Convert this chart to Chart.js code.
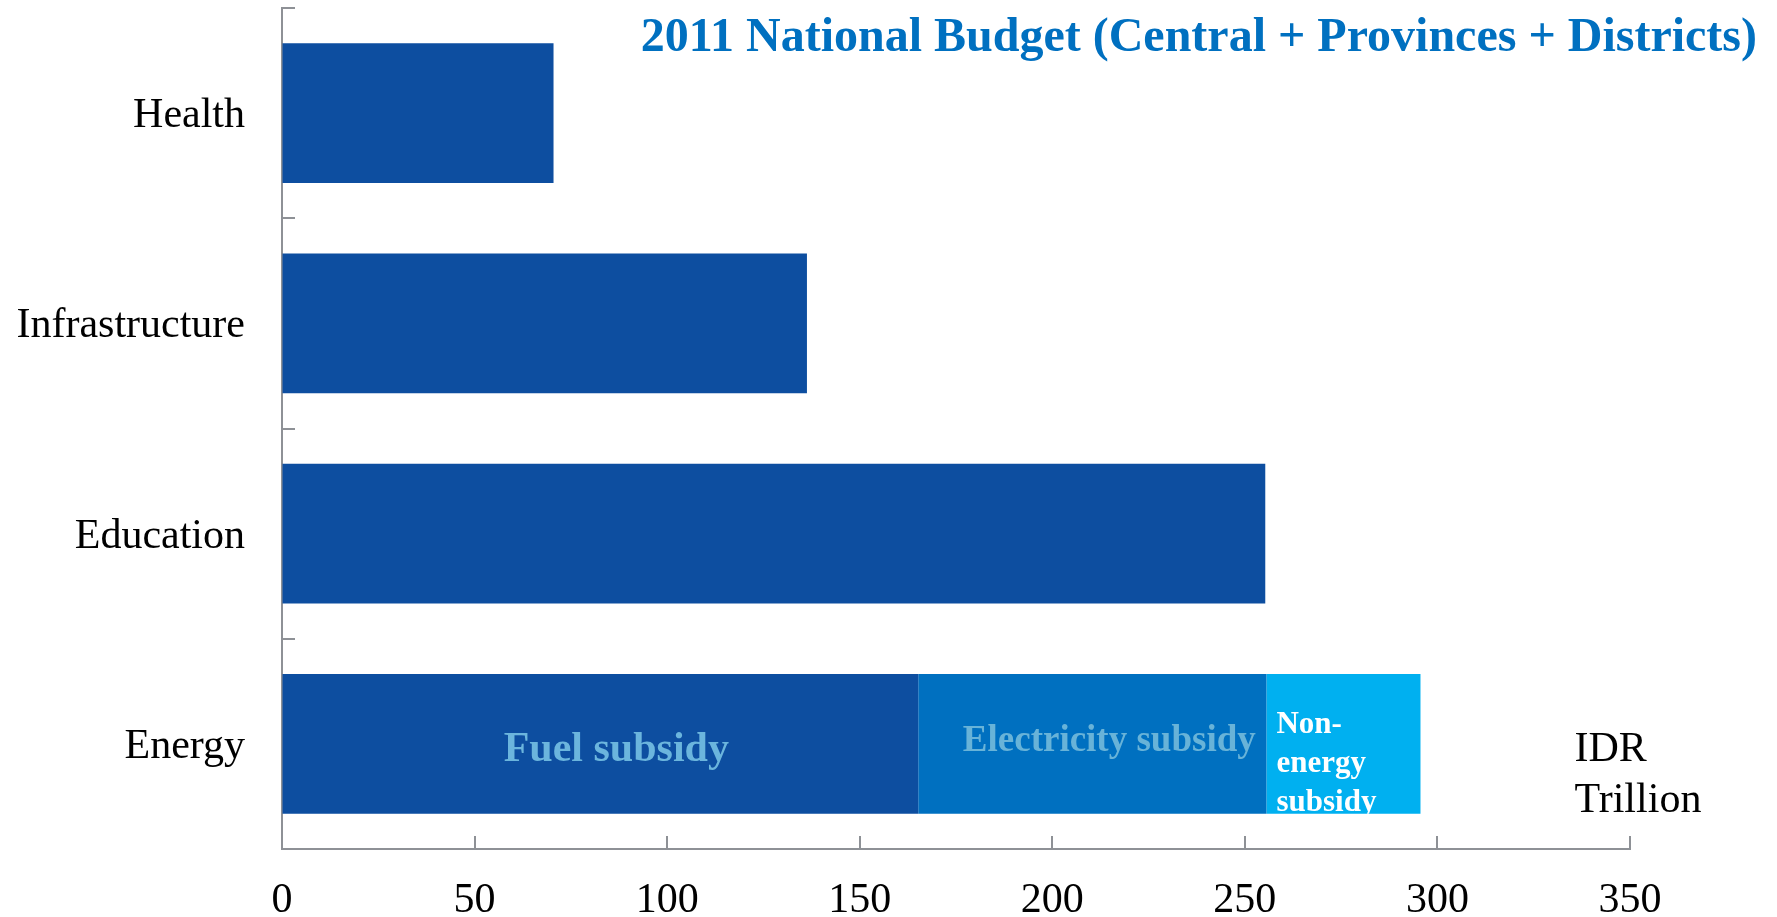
<!DOCTYPE html>
<html>
<head>
<meta charset="utf-8">
<script src="https://cdn.jsdelivr.net/npm/chart.js@4.4.1/dist/chart.umd.min.js"></script>
<style>
  html, body { margin: 0; padding: 0; background: #ffffff; }
  #wrap { width: 1777px; height: 917px; position: relative; }
</style>
</head>
<body>
<div id="wrap"><canvas id="c"></canvas></div>
<script>
const categories = ['Health', 'Infrastructure', 'Education', 'Energy'];
const baseSpending = [70.5, 136.3, 255.3, 165.2];       // Energy: fuel subsidy
const electricitySubsidy = [null, null, null, 90.4];
const nonEnergySubsidy = [null, null, null, 40.0];
const xTickValues = [0, 50, 100, 150, 200, 250, 300, 350];
const titleText = '2011 National Budget (Central + Provinces + Districts)';
const unitLines = ['IDR', 'Trillion'];
const segmentLabels = ['Fuel subsidy', 'Electricity subsidy', ['Non-', 'energy', 'subsidy']];

const SERIF = '"Liberation Serif", "Times New Roman", serif';
const AXIS_COLOR = '#8e9196';

const decorPlugin = {
  id: 'decor',
  afterDatasetsDraw(chart) {
    const ctx = chart.ctx;
    const area = chart.chartArea;
    const xs = chart.scales.x, ys = chart.scales.y;
    ctx.save();
    // inward tick marks on x axis
    ctx.strokeStyle = AXIS_COLOR;
    ctx.lineWidth = 2;
    xTickValues.forEach(v => {
      if (v === 0) return;
      const px = Math.round(xs.getPixelForValue(v));
      ctx.beginPath();
      ctx.moveTo(px, area.bottom);
      ctx.lineTo(px, area.bottom - 13);
      ctx.stroke();
    });
    // inward tick marks on y axis (category boundaries)
    const half = (ys.getPixelForValue(1) - ys.getPixelForValue(0)) / 2;
    for (let i = 0; i < categories.length; i++) {
      const py = Math.round(ys.getPixelForValue(i) - half);
      ctx.beginPath();
      ctx.moveTo(area.left, py);
      ctx.lineTo(area.left + 13, py);
      ctx.stroke();
    }

    // segment labels within the Energy bar
    const idx = categories.length - 1;
    const fuelBar = chart.getDatasetMeta(0).data[idx];
    const nonBar = chart.getDatasetMeta(2).data[idx];
    const cy = fuelBar.y;

    ctx.textBaseline = 'alphabetic';
    ctx.textAlign = 'center';
    ctx.fillStyle = '#6bb5dd';
    ctx.font = 'bold 42px ' + SERIF;
    ctx.fillText(segmentLabels[0], xs.getPixelForValue(86.8), cy + 17);
    ctx.fillStyle = '#68b3d8';
    ctx.font = 'bold 37px ' + SERIF;
    ctx.fillText(segmentLabels[1], xs.getPixelForValue(214.8), cy + 7);

    // Non-energy label, clipped to its bar
    const h = nonBar.height;
    ctx.save();
    ctx.beginPath();
    ctx.rect(nonBar.base, cy - h / 2, nonBar.x - nonBar.base, h);
    ctx.clip();
    ctx.fillStyle = '#ffffff';
    ctx.font = 'bold 31px ' + SERIF;
    ctx.textAlign = 'left';
    const nx = nonBar.base + 10;
    segmentLabels[2].forEach((t, i) => {
      ctx.fillText(t, nx, cy - 10.6 + i * 38.8);
    });
    ctx.restore();

    // unit label
    ctx.fillStyle = '#000000';
    ctx.font = '42px ' + SERIF;
    ctx.textAlign = 'left';
    const ux = xs.getPixelForValue(335.6);
    unitLines.forEach((t, i) => ctx.fillText(t, ux, cy + 17 + i * 51));

    // title
    ctx.fillStyle = '#0070c0';
    ctx.font = 'bold 48px ' + SERIF;
    ctx.textAlign = 'right';
    ctx.fillText(titleText, area.right + 127, area.top + 43);
    ctx.restore();
  }
};

new Chart(document.getElementById('c'), {
  type: 'bar',
  data: {
    labels: categories,
    datasets: [
      { label: 'Spending / Fuel subsidy', data: baseSpending, backgroundColor: '#0d4ea0' },
      { label: 'Electricity subsidy', data: electricitySubsidy, backgroundColor: '#0070c0' },
      { label: 'Non-energy subsidy', data: nonEnergySubsidy, backgroundColor: '#00b0f0' }
    ]
  },
  options: {
    indexAxis: 'y',
    responsive: true,
    maintainAspectRatio: false,
    animation: false,
    layout: { padding: { top: 8, right: 147, bottom: 0, left: 0 } },
    datasets: { bar: { categoryPercentage: 1.0, barPercentage: 0.664, borderWidth: 0 } },
    plugins: { legend: { display: false }, tooltip: { enabled: false }, title: { display: false } },
    scales: {
      x: {
        stacked: true,
        min: 0, max: 350,
        afterFit(scale) { scale.height = 68; scale.paddingLeft = 0; scale.paddingRight = 0; },
        afterBuildTicks(scale) { scale.ticks = xTickValues.map(v => ({ value: v })); },
        grid: { display: true, drawOnChartArea: false, drawTicks: false },
        border: { display: true, color: AXIS_COLOR, width: 2 },
        ticks: {
          color: '#000000',
          padding: 33,
          font: { family: SERIF, size: 42, lineHeight: 0.9 },
          maxRotation: 0, autoSkip: false
        }
      },
      y: {
        stacked: true,
        afterFit(scale) { scale.width = 282; scale.paddingTop = 0; scale.paddingBottom = 0; },
        grid: { display: true, drawOnChartArea: false, drawTicks: false, offset: true },
        border: { display: true, color: AXIS_COLOR, width: 2 },
        ticks: {
          color: '#000000',
          padding: 37,
          labelOffset: 3,
          font: { family: SERIF, size: 42 }
        }
      }
    }
  },
  plugins: [decorPlugin]
});
</script>
</body>
</html>
